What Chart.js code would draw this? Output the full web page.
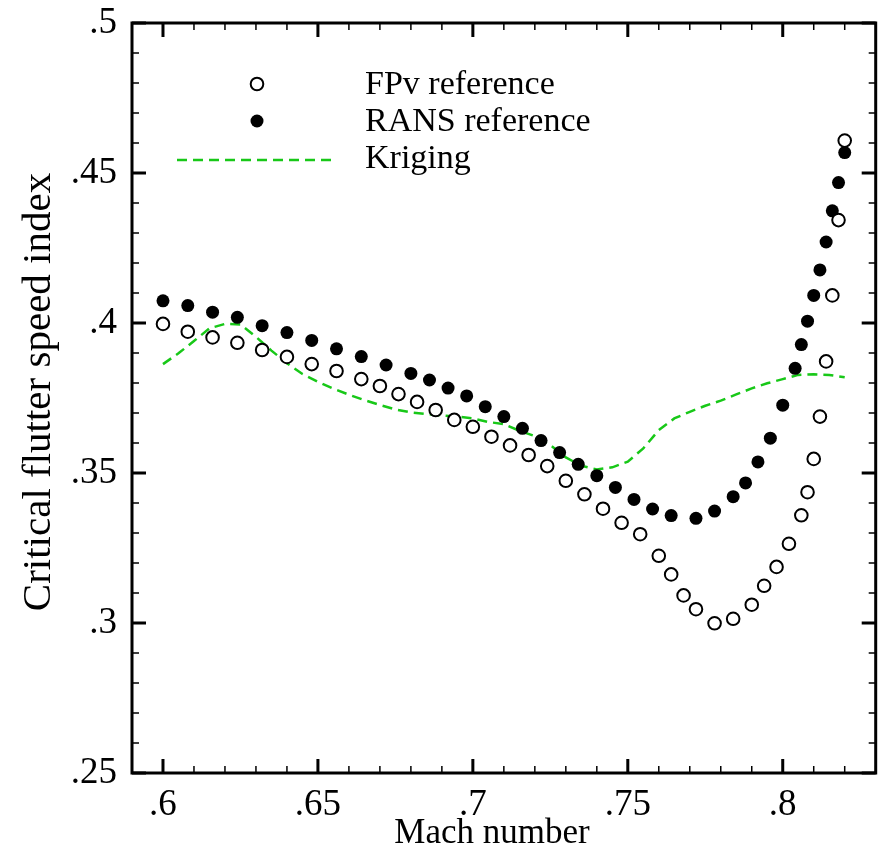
<!DOCTYPE html>
<html>
<head>
<meta charset="utf-8">
<script src="https://cdn.jsdelivr.net/npm/chart.js@4.4.1/dist/chart.umd.min.js"></script>
<style>
html, body { margin: 0; padding: 0; background: #fff; }
</style>
</head>
<body>
<canvas id="flutterChart" width="884" height="855"></canvas>
<script>
// FPv reference (open circles)
var fpvMach = [0.600, 0.608, 0.616, 0.624, 0.632, 0.640, 0.648, 0.656, 0.664, 0.670,
               0.676, 0.682, 0.688, 0.694, 0.700, 0.706, 0.712, 0.718, 0.724, 0.730,
               0.736, 0.742, 0.748, 0.754, 0.760, 0.764, 0.768, 0.772, 0.778, 0.784,
               0.790, 0.794, 0.798, 0.802, 0.806, 0.808, 0.810, 0.812, 0.814, 0.816,
               0.818, 0.820];
var fpvSpeed = [0.3997, 0.3971, 0.3952, 0.3934, 0.3910, 0.3887, 0.3863, 0.3840, 0.3813, 0.3790,
                0.3763, 0.3737, 0.3710, 0.3677, 0.3654, 0.3621, 0.3592, 0.3560, 0.3523, 0.3474,
                0.3429, 0.3381, 0.3334, 0.3296, 0.3224, 0.3162, 0.3092, 0.3046, 0.2999, 0.3014,
                0.3061, 0.3124, 0.3187, 0.3264, 0.3359, 0.3436, 0.3547, 0.3688, 0.3872, 0.4092,
                0.4343, 0.4608];

// RANS reference (filled circles)
var ransMach = [0.600, 0.608, 0.616, 0.624, 0.632, 0.640, 0.648, 0.656, 0.664, 0.672,
                0.680, 0.686, 0.692, 0.698, 0.704, 0.710, 0.716, 0.722, 0.728, 0.734,
                0.740, 0.746, 0.752, 0.758, 0.764, 0.772, 0.778, 0.784, 0.788, 0.792,
                0.796, 0.800, 0.804, 0.806, 0.808, 0.810, 0.812, 0.814, 0.816, 0.818,
                0.820];
var ransSpeed = [0.4074, 0.4058, 0.4036, 0.4019, 0.3991, 0.3968, 0.3942, 0.3914, 0.3888, 0.3860,
                 0.3832, 0.3810, 0.3783, 0.3757, 0.3721, 0.3688, 0.3649, 0.3608, 0.3568, 0.3529,
                 0.3491, 0.3452, 0.3412, 0.3380, 0.3358, 0.3349, 0.3373, 0.3421, 0.3467, 0.3537,
                 0.3616, 0.3726, 0.3849, 0.3928, 0.4006, 0.4092, 0.4177, 0.4270, 0.4374, 0.4468,
                 0.4568];

// Kriging (green dashed)
var krigMach = [0.600, 0.605, 0.610, 0.615, 0.620, 0.625, 0.630, 0.635, 0.640, 0.645,
                0.650, 0.655, 0.660, 0.665, 0.670, 0.675, 0.680, 0.685, 0.690, 0.695,
                0.700, 0.705, 0.710, 0.715, 0.720, 0.725, 0.730, 0.735, 0.740, 0.745,
                0.750, 0.755, 0.760, 0.765, 0.770, 0.775, 0.780, 0.785, 0.790, 0.795,
                0.800, 0.805, 0.810, 0.815, 0.820];
var krigSpeed = [0.3863, 0.3899, 0.3940, 0.3982, 0.3997, 0.3995, 0.3954, 0.3908, 0.3866, 0.3830,
                 0.3804, 0.3781, 0.3761, 0.3743, 0.3727, 0.3712, 0.3702, 0.3697, 0.3692, 0.3688,
                 0.3682, 0.3670, 0.3663, 0.3641, 0.3623, 0.3593, 0.3552, 0.3524, 0.3512, 0.3519,
                 0.3538, 0.3582, 0.3643, 0.3682, 0.3704, 0.3724, 0.3741, 0.3762, 0.3782, 0.3799,
                 0.3813, 0.3827, 0.3829, 0.3827, 0.3819];

var machTicks = [0.6, 0.65, 0.7, 0.75, 0.8];
var speedTicks = [0.25, 0.3, 0.35, 0.4, 0.45, 0.5];
var minorStep = 0.01;

var serif = "'Liberation Serif', 'Times New Roman', serif";
var green = '#18c818';

function toPoints(xs, ys){
    var pts = [];
    for (var i = 0; i < xs.length; i++)
        pts.push({x: xs[i], y: ys[i]});
    return pts;
}

// .6 / .65 style labels, no leading zero
function tickFmt(v){
    return v.toFixed(2).replace(/0+$/, '').replace(/^0/, '');
}

// box, inward ticks on all four sides
var framePlugin = {
    id: 'frame',
    afterDatasetsDraw: function(chart){
        var ctx = chart.ctx, a = chart.chartArea;
        var xs = chart.scales.x, ys = chart.scales.y;
        ctx.save();
        ctx.strokeStyle = '#000';
        ctx.lineCap = 'butt';

        function tickSet(scale, horiz){
            var n = Math.round((scale.max - scale.min) / minorStep);
            for (var i = 0; i <= n; i++){
                var v = scale.min + i * minorStep;
                var major = machTicks.concat(speedTicks).some(function(t){ return Math.abs(t - v) < 1e-6; });
                var len = major ? 14 : 7;
                ctx.lineWidth = major ? 3 : 1.5;
                var p = scale.getPixelForValue(v);
                ctx.beginPath();
                if (horiz){
                    ctx.moveTo(p, a.bottom); ctx.lineTo(p, a.bottom - len);
                    ctx.moveTo(p, a.top); ctx.lineTo(p, a.top + len);
                } else {
                    ctx.moveTo(a.left, p); ctx.lineTo(a.left + len, p);
                    ctx.moveTo(a.right, p); ctx.lineTo(a.right - len, p);
                }
                ctx.stroke();
            }
        }
        tickSet(xs, true);
        tickSet(ys, false);

        ctx.lineWidth = 3;
        ctx.strokeRect(a.left, a.top, a.right - a.left, a.bottom - a.top);
        ctx.restore();
    }
};

// axis titles and the in-plot legend
var textPlugin = {
    id: 'texts',
    afterDraw: function(chart){
        var ctx = chart.ctx;
        var ds = chart.data.datasets;
        ctx.save();
        ctx.fillStyle = '#000';

        ctx.font = '35px ' + serif;
        ctx.textAlign = 'center';
        ctx.textBaseline = 'alphabetic';
        ctx.fillText('Mach number', 492, 843);

        ctx.save();
        ctx.translate(50, 392);
        ctx.rotate(-Math.PI / 2);
        ctx.font = '41px ' + serif;
        ctx.fillText('Critical flutter speed index', 0, 0);
        ctx.restore();

        // legend
        var fpv = ds[2], rans = ds[1], krig = ds[0];
        ctx.beginPath();
        ctx.arc(257, 84, fpv.pointRadius, 0, Math.PI * 2);
        ctx.fillStyle = fpv.backgroundColor;
        ctx.fill();
        ctx.lineWidth = fpv.borderWidth;
        ctx.strokeStyle = fpv.borderColor;
        ctx.stroke();

        ctx.beginPath();
        ctx.arc(257, 121, rans.pointRadius, 0, Math.PI * 2);
        ctx.fillStyle = rans.backgroundColor;
        ctx.fill();

        ctx.beginPath();
        ctx.setLineDash(krig.borderDash);
        ctx.lineWidth = krig.borderWidth;
        ctx.strokeStyle = krig.borderColor;
        ctx.moveTo(177, 160);
        ctx.lineTo(337, 160);
        ctx.stroke();
        ctx.setLineDash([]);

        ctx.fillStyle = '#000';
        ctx.font = '34px ' + serif;
        ctx.textAlign = 'left';
        ctx.fillText(fpv.label, 365, 94);
        ctx.fillText(rans.label, 365, 131);
        ctx.fillText(krig.label, 365, 168);
        ctx.restore();
    }
};

var chart = new Chart(document.getElementById('flutterChart'), {
    type: 'scatter',
    data: {
        datasets: [{
            label: 'Kriging',
            data: toPoints(krigMach, krigSpeed),
            showLine: true,
            borderColor: green,
            borderWidth: 2.5,
            borderDash: [10, 6],
            pointRadius: 0,
            fill: false,
            order: 3
        }, {
            label: 'RANS reference',
            data: toPoints(ransMach, ransSpeed),
            pointStyle: 'circle',
            pointRadius: 6.5,
            backgroundColor: '#000',
            borderColor: '#000',
            borderWidth: 0,
            order: 2
        }, {
            label: 'FPv reference',
            data: toPoints(fpvMach, fpvSpeed),
            pointStyle: 'circle',
            pointRadius: 6.3,
            backgroundColor: '#fff',
            borderColor: '#000',
            borderWidth: 2,
            order: 1
        }]
    },
    options: {
        responsive: false,
        animation: false,
        devicePixelRatio: 1,
        layout: { padding: { top: 23, right: 3, left: 0, bottom: 0 } },
        plugins: {
            legend: { display: false },
            tooltip: { enabled: false }
        },
        scales: {
            x: {
                type: 'linear',
                min: 0.59,
                max: 0.83,
                afterBuildTicks: function(s){ s.ticks = machTicks.map(function(v){ return {value: v}; }); },
                afterFit: function(s){
                    s.height = 82;
                    s.paddingLeft = 0;
                    s.paddingRight = 0;
                },
                grid: { display: false, drawTicks: false },
                border: { display: false },
                ticks: {
                    callback: tickFmt,
                    color: '#000',
                    font: { family: serif, size: 37 },
                    padding: 10,
                    maxRotation: 0,
                    autoSkip: false
                }
            },
            y: {
                type: 'linear',
                min: 0.25,
                max: 0.5,
                afterBuildTicks: function(s){ s.ticks = speedTicks.map(function(v){ return {value: v}; }); },
                afterFit: function(s){
                    s.width = 132;
                    s.paddingTop = 0;
                    s.paddingBottom = 0;
                },
                grid: { display: false, drawTicks: false },
                border: { display: false },
                ticks: {
                    callback: tickFmt,
                    color: '#000',
                    font: { family: serif, size: 37 },
                    padding: 15,
                    autoSkip: false
                }
            }
        }
    },
    plugins: [framePlugin, textPlugin]
});
</script>
</body>
</html>
